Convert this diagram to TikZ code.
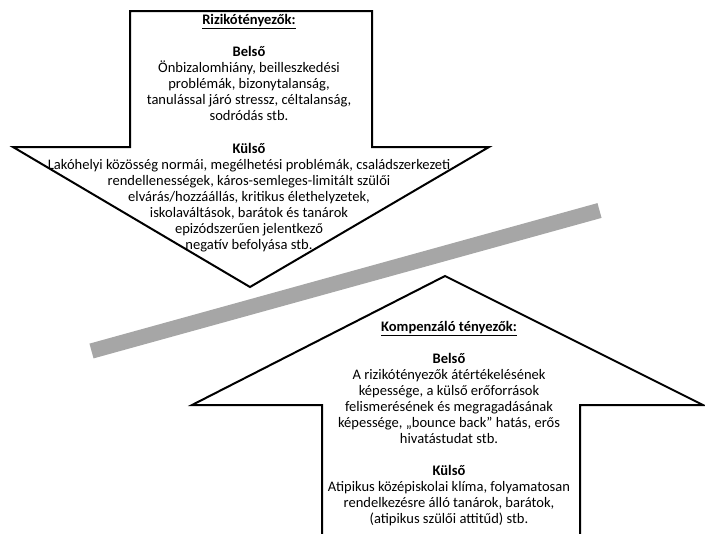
\documentclass[tikz,border=0pt]{standalone}
\usepackage{fontspec}
\setmainfont{Carlito}
\definecolor{bandgray}{RGB}{166,166,166}
\begin{document}
\begin{tikzpicture}[x=0.75pt,y=-0.75pt,
  arrowshape/.style={draw=black,line width=1.5pt,fill=white,line join=miter},
  band/.style={draw=bandgray,line width=11.5pt,line cap=butt},
  txt/.style={align=center,font=\fontsize{10.9}{12}\selectfont,inner sep=0pt}]
\useasboundingbox (0,0) rectangle (705,533);
\clip (0,0) rectangle (705,533);
% down arrow (risk factors)
\draw[arrowshape] (130,11) -- (372,11) -- (372,147) -- (489,147) -- (250,287)
  -- (13,147) -- (130,147) -- cycle;
% up arrow (compensating factors)
\draw[arrowshape] (322,545) -- (322,405) -- (192,405) -- (445,276) -- (703,405)
  -- (580,405) -- (580,545);
% grey band
\coordinate (bandA) at (91.5,351);
\coordinate (bandB) at (599.5,210.5);
\draw[band] (bandA) -- (bandB);
% texts (anchor = baseline of the last line)
\node[txt,anchor=base] (risk) at (249,249) {\textbf{\underline{Rizikótényezők:}}\\[12.3pt]
\textbf{Belső}\\
Önbizalomhiány, beilleszkedési\\
problémák, bizonytalanság,\\
tanulással járó stressz, céltalanság,\\
sodródás stb.\\[12.3pt]
\textbf{Külső}\\
Lakóhelyi közösség normái, megélhetési problémák, családszerkezeti\\
rendellenességek, káros-semleges-limitált szülői\\
elvárás/hozzáállás, kritikus élethelyzetek,\\
iskolaváltások, barátok és tanárok\\
epizódszerűen jelentkező\\
negatív befolyása stb.};
\node[txt,anchor=base] (comp) at (449,523.5) {\textbf{\underline{Kompenzáló tényezők:}}\\[12pt]
\textbf{Belső}\\
A rizikótényezők átértékelésének\\
képessége, a külső erőforrások\\
felismerésének és megragadásának\\
képessége, „bounce back” hatás, erős\\
hivatástudat stb.\\[12pt]
\textbf{Külső}\\
Atipikus középiskolai klíma, folyamatosan\\
rendelkezésre álló tanárok, barátok,\\
(atipikus szülői attitűd) stb.};
\end{tikzpicture}
\end{document}
